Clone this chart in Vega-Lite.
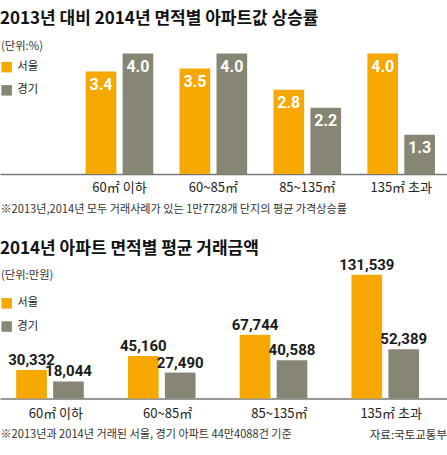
{
  "$schema": "https://vega.github.io/schema/vega-lite/v6.json",
  "padding": {"left": 0, "right": 0, "top": 10, "bottom": 0},
  "background": "white",
  "spacing": 24.4,
  "title": {"text": "자료:국토교통부", "orient": "bottom", "anchor": "end", "offset": -10, "fontSize": 11.5, "fontWeight": "normal", "color": "#333", "font": "Noto Sans CJK KR, sans-serif"},
  "resolve": {"legend": {"color": "independent"}},
  "config": {
    "view": {"stroke": null},
    "font": "Noto Sans CJK KR, sans-serif",
    "title": {"anchor": "start", "fontSize": 17, "fontWeight": "bold", "color": "#111", "frame": "group", "font": "Noto Sans CJK KR, sans-serif"},
    "axis": {"ticks": false, "grid": false, "domainColor": "#777", "domainWidth": 1.5, "labelFontSize": 13, "labelColor": "#222", "labelAngle": 0, "labelFont": "Noto Sans CJK KR, sans-serif", "titleFont": "Noto Sans CJK KR, sans-serif", "titleFontSize": 11.1, "titleFontWeight": "normal", "titleColor": "#333", "titleAnchor": "start", "titleAlign": "left"},
    "legend": {"orient": "none", "legendX": 1, "legendY": 0, "padding": 0, "titleFont": "Noto Sans CJK KR, sans-serif", "titleFontSize": 11.3, "titleFontWeight": "normal", "titleColor": "#333", "labelFont": "Noto Sans CJK KR, sans-serif", "labelFontSize": 11.3, "labelColor": "#222", "symbolType": "square", "symbolSize": 110, "symbolStrokeWidth": 0, "symbolOpacity": 1, "rowPadding": 11.2, "titlePadding": 9.2, "labelOffset": 5}
  },
  "vconcat": [
    {
      "width": 447,
      "height": 134,
      "title": {"text": "2013년 대비 2014년 면적별 아파트값 상승률", "offset": 12},
      "data": {"values": [
        {"area": "60㎡ 이하", "region": "서울", "value": 3.4},
        {"area": "60㎡ 이하", "region": "경기", "value": 4.0},
        {"area": "60~85㎡", "region": "서울", "value": 3.5},
        {"area": "60~85㎡", "region": "경기", "value": 4.0},
        {"area": "85~135㎡", "region": "서울", "value": 2.8},
        {"area": "85~135㎡", "region": "경기", "value": 2.2},
        {"area": "135㎡ 초과", "region": "서울", "value": 4.0},
        {"area": "135㎡ 초과", "region": "경기", "value": 1.3}
      ]},
      "encoding": {
        "x": {"field": "area", "type": "nominal", "sort": null, "scale": {"paddingInner": 0.28, "paddingOuter": 0.52, "align": 0.877}, "axis": {"title": "※2013년,2014년 모두 거래사례가 있는 1만7728개 단지의 평균 가격상승률", "labelPadding": 7, "titlePadding": 9.5}},
        "xOffset": {"field": "region", "type": "nominal", "sort": ["서울", "경기"], "scale": {"paddingInner": 0.17, "paddingOuter": 0}},
        "y": {"field": "value", "type": "quantitative", "scale": {"domain": [0, 4.45], "nice": false}, "axis": null}
      },
      "layer": [
        {"mark": {"type": "bar"}, "encoding": {"color": {"field": "region", "type": "nominal", "scale": {"domain": ["서울", "경기"], "range": ["#F7A800", "#878573"]}, "legend": {"title": "(단위:%)", "legendY": 1}}}},
        {"mark": {"type": "text", "baseline": "alphabetic", "dy": 18.5, "color": "white", "fontSize": 16, "fontWeight": "bold", "font": "Roboto, sans-serif"}, "encoding": {"text": {"field": "value", "type": "quantitative", "format": ".1f"}}}
      ]
    },
    {
      "width": 447,
      "height": 128,
      "title": {"text": "2014년 아파트 면적별 평균 거래금액", "offset": -0.5},
      "data": {"values": [
        {"area": "60㎡ 이하", "region": "서울", "value": 30332},
        {"area": "60㎡ 이하", "region": "경기", "value": 18044},
        {"area": "60~85㎡", "region": "서울", "value": 45160},
        {"area": "60~85㎡", "region": "경기", "value": 27490},
        {"area": "85~135㎡", "region": "서울", "value": 67744},
        {"area": "85~135㎡", "region": "경기", "value": 40588},
        {"area": "135㎡ 초과", "region": "서울", "value": 131539},
        {"area": "135㎡ 초과", "region": "경기", "value": 52389}
      ]},
      "encoding": {
        "x": {"field": "area", "type": "nominal", "sort": null, "scale": {"paddingInner": 0.29, "paddingOuter": 0.145, "align": 0.5}, "axis": {"title": "※2013년과 2014년 거래된 서울, 경기 아파트 44만4088건 기준", "labelPadding": 9, "titlePadding": 8.5}},
        "xOffset": {"field": "region", "type": "nominal", "sort": ["서울", "경기"], "scale": {"paddingInner": 0.336, "paddingOuter": 0}},
        "y": {"field": "value", "type": "quantitative", "scale": {"domain": [0, 136300], "nice": false}, "axis": null}
      },
      "layer": [
        {"mark": {"type": "bar"}, "encoding": {"color": {"field": "region", "type": "nominal", "scale": {"domain": ["서울", "경기"], "range": ["#F7A800", "#878573"]}, "legend": {"title": "(단위:만원)", "titlePadding": 16}}}},
        {"mark": {"type": "text", "baseline": "alphabetic", "dy": -5, "color": "#1a1a1a", "fontSize": 15, "fontWeight": "bold", "font": "Roboto, sans-serif"}, "encoding": {"text": {"field": "value", "type": "quantitative", "format": ",d"}}}
      ]
    }
  ]
}
